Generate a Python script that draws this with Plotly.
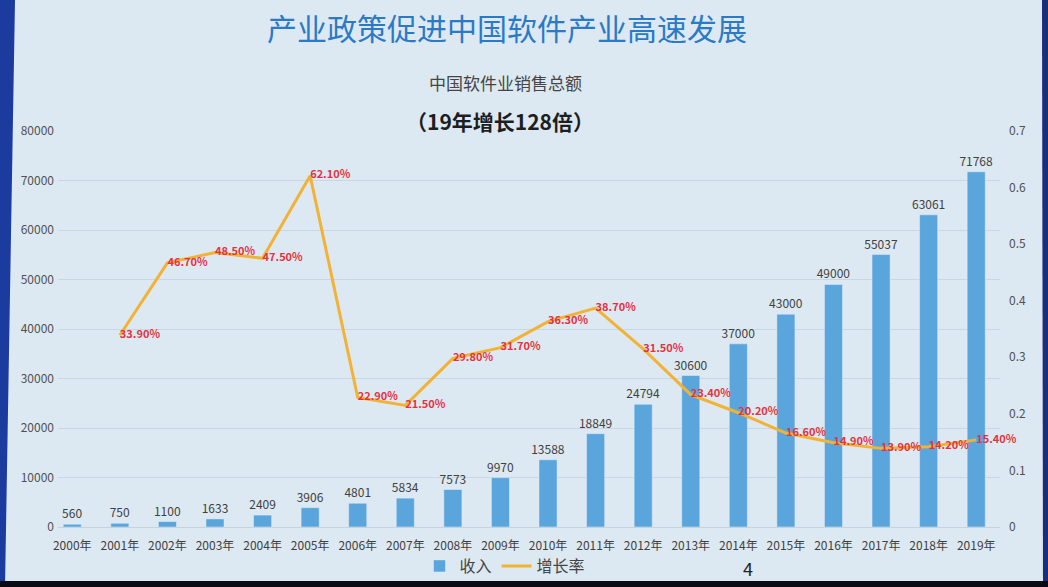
import plotly.graph_objects as go

years = ["2000年", "2001年", "2002年", "2003年", "2004年", "2005年", "2006年", "2007年",
         "2008年", "2009年", "2010年", "2011年", "2012年", "2013年", "2014年", "2015年",
         "2016年", "2017年", "2018年", "2019年"]
revenue = [560, 750, 1100, 1633, 2409, 3906, 4801, 5834, 7573, 9970, 13588, 18849,
           24794, 30600, 37000, 43000, 49000, 55037, 63061, 71768]
growth = [None, 0.339, 0.467, 0.485, 0.475, 0.621, 0.229, 0.215, 0.298, 0.317, 0.363,
          0.387, 0.315, 0.234, 0.202, 0.166, 0.149, 0.139, 0.142, 0.154]

W, H = 1048, 587
L, R, T, B = 58, 1000, 131, 527

def px(x):
    return (x - L) / (R - L)

def py(y):
    return (B - y) / (B - T)

CJK = "Noto Sans CJK SC"
bg = "#dde9f2"

fig = go.Figure()
fig.add_trace(go.Bar(
    x=years, y=revenue, name="收入", marker_color="#5aa5dc", width=0.38,
    text=[str(v) for v in revenue], textposition="outside", cliponaxis=False,
    constraintext="none",
    textfont=dict(size=12, color="#404040", family=CJK),
))
fig.add_trace(go.Scatter(
    x=years, y=growth, name="增长率", yaxis="y2", mode="lines+text",
    line=dict(color="#f2b236", width=3),
    text=["" if g is None else f"<b>{g*100:.2f}%</b>" for g in growth],
    textposition="middle right", cliponaxis=False,
    textfont=dict(size=11, color="#e5323f", family=CJK),
))

shapes = [
    dict(type="path", xref="paper", yref="paper", layer="above",
         path=f"M {px(0)},{py(0)} L {px(15)},{py(0)} L {px(5)},{py(H)} L {px(0)},{py(H)} Z",
         fillcolor="#1b3b9e", line=dict(width=0)),
    dict(type="path", xref="paper", yref="paper", layer="above",
         path=f"M {px(1042)},{py(0)} L {px(W)},{py(0)} L {px(W)},{py(H)} L {px(1043)},{py(H)} Z",
         fillcolor="#1a2f7c", line=dict(width=0)),
    dict(type="rect", xref="paper", yref="paper", layer="above",
         x0=px(0), x1=px(W), y0=py(H), y1=py(581),
         fillcolor="#0a0a14", line=dict(width=0)),
]

annotations = [
    dict(text="产业政策促进中国软件产业高速发展", xref="paper", yref="paper",
         x=px(507), y=py(27), showarrow=False, xanchor="center", yanchor="middle",
         font=dict(size=30, color="#2a7ac6", family=CJK)),
    dict(text="中国软件业销售总额", xref="paper", yref="paper",
         x=px(505), y=py(82), showarrow=False, xanchor="center", yanchor="middle",
         font=dict(size=17, color="#454545", family=CJK)),
    dict(text="<b>（19年增长128倍）</b>", xref="paper", yref="paper",
         x=px(500), y=py(121), showarrow=False, xanchor="center", yanchor="middle",
         font=dict(size=21, color="#1e1e1e", family=CJK)),
    dict(text="4", xref="paper", yref="paper",
         x=px(748), y=py(568), showarrow=False, xanchor="center", yanchor="middle",
         font=dict(size=18, color="#222222", family=CJK)),
]

fig.update_layout(
    width=W, height=H,
    margin=dict(l=L, r=W - R, t=T, b=H - B, autoexpand=False),
    paper_bgcolor=bg, plot_bgcolor=bg,
    font=dict(family=CJK, color="#444444"),
    showlegend=True,
    legend=dict(orientation="h", xref="container", yref="container",
                x=505 / W, y=1 - 566 / H, xanchor="center", yanchor="middle",
                font=dict(size=16, color="#444444"), bgcolor="rgba(0,0,0,0)",
                itemwidth=30),
    xaxis=dict(type="category", range=[-0.3, 19.5], showgrid=False, showline=True,
               linecolor="#c5d3de", ticks="", ticklabelstandoff=8,
               tickfont=dict(size=12, color="#404040")),
    yaxis=dict(range=[0, 80000], dtick=10000, showgrid=True, gridcolor="#c8d7e3",
               zeroline=False, ticks="", tickfont=dict(size=12, color="#505050"),
               tickformat="d", ticklabelstandoff=3),
    yaxis2=dict(range=[0, 0.7], dtick=0.1, overlaying="y", side="right", showgrid=False,
                zeroline=False, ticks="", tickfont=dict(size=12, color="#505050"),
                ticklabelstandoff=8),
    bargap=0.6,
    shapes=shapes, annotations=annotations,
)

fig.write_html("out.html")
